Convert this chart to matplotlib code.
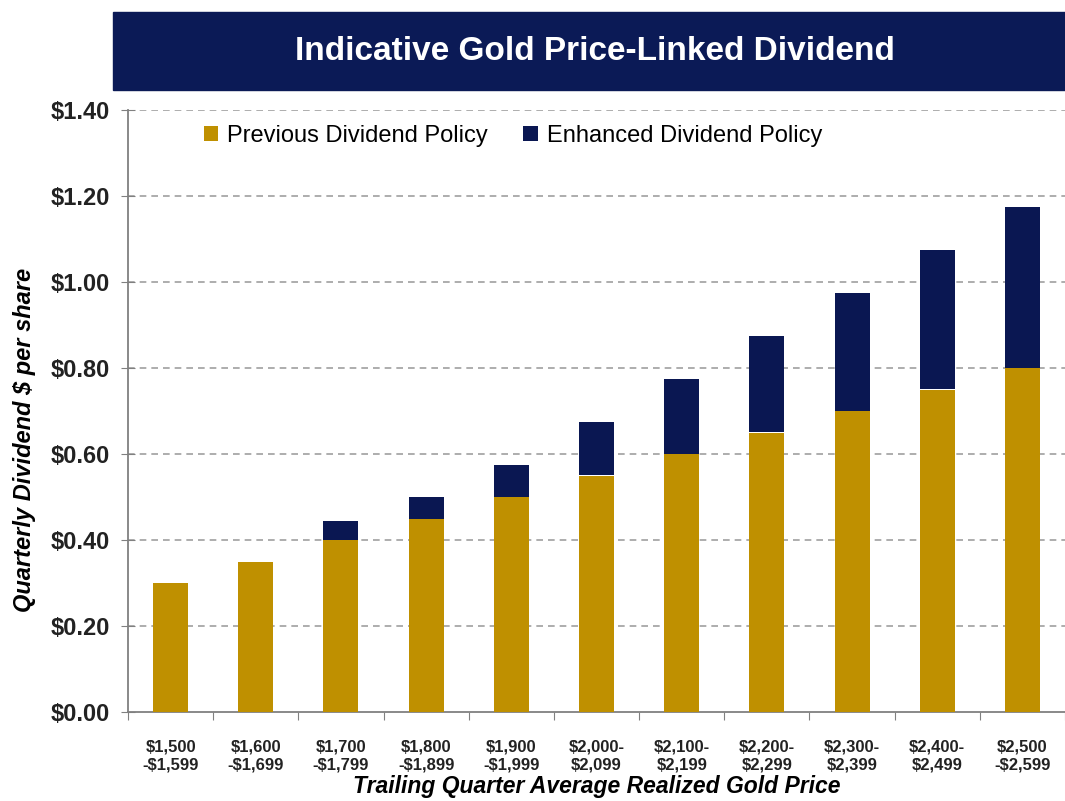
import matplotlib as mpl
mpl.use('Agg')
import matplotlib.pyplot as plt
from matplotlib.patches import Rectangle

# data
ranges = ['$1,500\n-$1,599', '$1,600\n-$1,699', '$1,700\n-$1,799', '$1,800\n-$1,899',
          '$1,900\n-$1,999', '$2,000-\n$2,099', '$2,100-\n$2,199', '$2,200-\n$2,299',
          '$2,300-\n$2,399', '$2,400-\n$2,499', '$2,500\n-$2,599']
previous = [0.30, 0.35, 0.40, 0.45, 0.50, 0.55, 0.60, 0.65, 0.70, 0.75, 0.80]
enhanced = [0.0, 0.0, 0.045, 0.05, 0.075, 0.125, 0.175, 0.225, 0.275, 0.325, 0.375]
yticks = [0.0, 0.2, 0.4, 0.6, 0.8, 1.0, 1.2, 1.4]

GOLD = '#BF9000'
NAVY = '#0A1752'
FONT = 'Liberation Sans'

plt.rcParams['font.family'] = FONT

fig = plt.figure(figsize=(10.65, 8.01), dpi=100)

# title banner
fig.patches.append(Rectangle((113/1065, 1 - 90/801), 952/1065, 78/801,
                             transform=fig.transFigure, color='#0B1A56', zorder=0))
fig.text(595/1065, 1 - 51/801, 'Indicative Gold Price-Linked Dividend', color='white',
         ha='center', va='center', fontsize=24, fontweight='bold')

ax = fig.add_axes([128/1065, 1 - 712/801, 1 - 128/1065, (712 - 110)/801])

x = list(range(len(ranges)))
ax.bar(x, previous, width=0.41, color=GOLD, zorder=3, label='Previous Dividend Policy')
ax.bar(x, enhanced, width=0.41, bottom=previous, color=NAVY, zorder=3,
       label='Enhanced Dividend Policy')

ax.set_xlim(-0.5, 10.4)
ax.set_ylim(0, 1.4)
ax.set_yticks(yticks)
ax.set_yticklabels(['$%.2f' % v for v in yticks], fontsize=17, fontweight='bold',
                   color='#222222')
for v in yticks[1:]:
    ax.axhline(v, color='#A0A0A0', linestyle=(0, (4, 3)), linewidth=1.2, zorder=1)

ax.set_xticks([i - 0.5 for i in range(len(ranges) + 1)])
ax.set_xticklabels([])
ax.set_xticks(x, minor=True)
ax.set_xticklabels(ranges, minor=True, fontsize=12, fontweight='bold', color='#222222',
                   linespacing=1.2)
ax.tick_params(axis='x', which='minor', length=0, pad=20)
ax.tick_params(axis='x', which='major', length=6, color='#808080', direction='out')
ax.tick_params(axis='y', length=10, color='#808080', direction='inout', pad=8)

for s in ['top', 'right']:
    ax.spines[s].set_visible(False)
for s in ['left', 'bottom']:
    ax.spines[s].set_color('#808080')
    ax.spines[s].set_linewidth(1.3)

ax.set_ylabel('Quarterly Dividend $ per share', fontsize=17, fontweight='bold',
              fontstyle='italic')
ax.yaxis.set_label_coords(-0.098, 0.452)
ax.set_xlabel('Trailing Quarter Average Realized Gold Price', fontsize=16.5,
              fontweight='bold', fontstyle='italic', labelpad=2)

ax.legend(loc='upper left', bbox_to_anchor=(0.058, 1.01), ncol=2, frameon=False,
          prop={'size': 17}, handlelength=0.6, handleheight=0.6,
          columnspacing=1.5, handletextpad=0.4)

fig.savefig('out.png', dpi=100)
